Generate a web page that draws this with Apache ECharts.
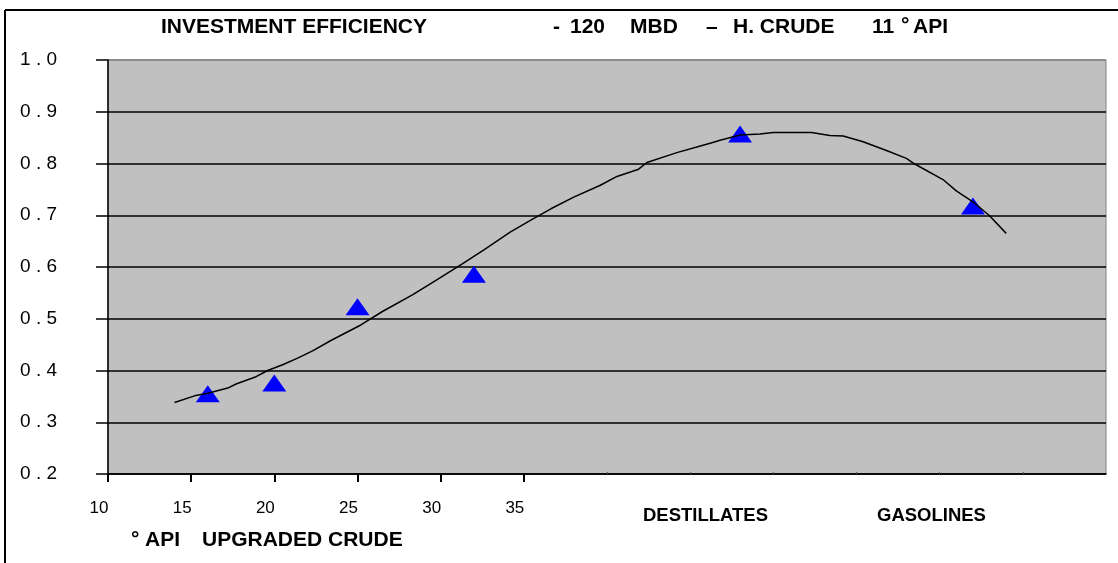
<!DOCTYPE html>
<html>
<head>
<meta charset="utf-8">
<script src="https://cdn.jsdelivr.net/npm/echarts@6/dist/echarts.min.js"></script>
<style>
  html, body { margin: 0; padding: 0; background: #fff; }
  #chart { width: 1118px; height: 563px; }
</style>
</head>
<body>
<div id="chart"></div>
<script>
// curve: investment efficiency vs API of upgraded crude
const curveX = [14.0, 15.2, 16.0, 17.2, 17.7, 18.9, 19.6, 20.5, 21.4, 22.3, 23.4, 25.2, 26.5, 28.3, 29.5, 31.3, 32.6, 34.2, 35.5, 36.6, 38.0, 39.6, 40.6, 41.9, 42.4, 44.2, 45.4, 46.2, 46.8, 48.0, 49.2, 50.0, 52.3, 53.4, 54.2, 55.4, 56.8, 58.0, 58.5, 60.2, 61.0, 62.0, 63.0, 64.0]
const curveY = [0.338, 0.351, 0.356, 0.366, 0.374, 0.388, 0.400, 0.411, 0.424, 0.438, 0.458, 0.488, 0.514, 0.546, 0.570, 0.606, 0.633, 0.668, 0.692, 0.712, 0.735, 0.758, 0.775, 0.789, 0.802, 0.821, 0.832, 0.839, 0.845, 0.855, 0.857, 0.860, 0.860, 0.854, 0.853, 0.842, 0.825, 0.810, 0.799, 0.769, 0.747, 0.726, 0.699, 0.665]

// measured points (triangles)
const pointX = [16, 20, 25, 32, 48, 62]
const pointY = [0.355, 0.376, 0.523, 0.586, 0.857, 0.718]

const xLabelValues = [10, 15, 20, 25, 30, 35]
const xMinorTicks = [40, 45, 50, 55, 60, 65]

const FONT = 'Liberation Sans, Arial, sans-serif'

const chart = echarts.init(document.getElementById('chart'))

const boldText = (text, x, y, size) => ({
  type: 'text',
  left: x,
  top: y,
  style: { text: text, font: 'bold ' + size + 'px ' + FONT, fill: '#000' }
})

chart.setOption({
  animation: false,
  backgroundColor: '#fff',
  grid: {
    left: 108, right: 12, top: 60, bottom: 89,
    show: true,
    backgroundColor: '#C0C0C0',
    borderColor: '#808080',
    borderWidth: 1
  },
  xAxis: [{
    type: 'value',
    min: 10, max: 70, interval: 5,
    axisLine: { lineStyle: { color: '#000', width: 1.5 } },
    axisTick: { show: true, length: 8, lineStyle: { color: '#000', width: 2 }, customValues: xLabelValues },
    axisLabel: {
      customValues: xLabelValues,
      fontFamily: FONT, fontSize: 17, color: '#000',
      margin: 26, padding: [0, 18, 0, 0]
    },
    splitLine: { show: false }
  }, {
    type: 'value',
    min: 10, max: 70, interval: 5,
    position: 'bottom',
    axisLine: { show: false },
    axisTick: { show: true, inside: true, length: 2, lineStyle: { color: '#555', width: 1 }, customValues: xMinorTicks },
    axisLabel: { show: false },
    splitLine: { show: false }
  }],
  yAxis: {
    type: 'value',
    min: 0.2, max: 1.0, interval: 0.1,
    axisLine: { show: true, lineStyle: { color: '#000', width: 1.5 } },
    axisTick: { show: true, length: 12, lineStyle: { color: '#000', width: 1.5 } },
    axisLabel: {
      fontFamily: FONT, fontSize: 19, color: '#000', margin: 51,
      formatter: v => v.toFixed(1).split('').join(' ')
    },
    splitLine: {
      show: true,
      lineStyle: { color: ['#000', '#000', '#000', '#000', '#000', '#000', '#000', '#000', '#808080'], width: 1.5 }
    }
  },
  series: [{
    type: 'line',
    data: curveX.map((x, i) => [x, curveY[i]]),
    showSymbol: false,
    smooth: false,
    lineStyle: { color: '#000', width: 1.5 }
  }, {
    type: 'scatter',
    data: pointX.map((x, i) => [x, pointY[i]]),
    symbol: 'triangle',
    symbolSize: [24, 17],
    itemStyle: { color: '#0000FF', opacity: 1 }
  }],
  graphic: [
    { type: 'line', shape: { x1: 5, y1: 10, x2: 1118, y2: 10 }, style: { stroke: '#000', lineWidth: 2 } },
    { type: 'line', shape: { x1: 5, y1: 10, x2: 5, y2: 563 }, style: { stroke: '#000', lineWidth: 2 } },
    boldText('INVESTMENT EFFICIENCY', 161, 17, 21),
    boldText('-', 553, 17, 21),
    boldText('120', 570, 17, 21),
    boldText('MBD', 630, 17, 21),
    boldText('\u2013', 706, 17, 21),
    boldText('H. CRUDE', 733, 17, 21),
    boldText('11', 872, 17, 21),
    boldText('\u00B0', 901, 15, 21),
    boldText('API', 913, 17, 21),
    boldText('DESTILLATES', 643, 506, 18.5),
    boldText('GASOLINES', 877, 506, 18.5),
    boldText('\u00B0', 131, 529, 21),
    boldText('API', 145, 530, 21),
    boldText('UPGRADED CRUDE', 202, 530, 21)
  ]
})
</script>
</body>
</html>
